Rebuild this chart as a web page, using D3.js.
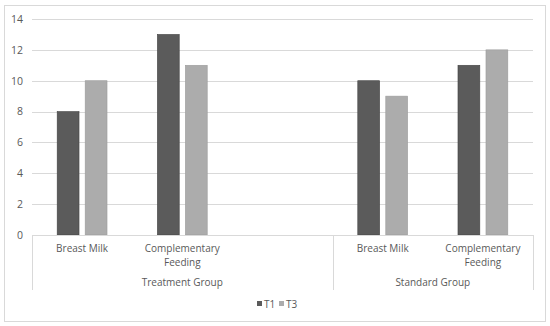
<!DOCTYPE html>
<html>
<head>
<meta charset="utf-8">
<script src="https://cdn.jsdelivr.net/npm/d3@7"></script>
<style>
  body { margin: 0; background: #fff; }
  text { font-family: "Open Sans", sans-serif; fill: #595959; }
</style>
</head>
<body>
<div id="chart"></div>
<script>
// data
var groups = ["Treatment Group", "Standard Group"];
var categories = ["Breast Milk", "Complementary Feeding", "", "Breast Milk", "Complementary Feeding"];
var categoryGroup = [0, 0, 0, 1, 1];
var seriesNames = ["T1", "T3"];
var t1Values = [8, 13, null, 10, 11];
var t3Values = [10, 11, null, 9, 12];
var yTicks = [0, 2, 4, 6, 8, 10, 12, 14];
var colors = {T1: "#5b5b5b", T3: "#acacac"};
var strokes = {T1: "#444", T3: "#9c9c9c"};

var W = 550, H = 326;
var plotLeft = 32, plotRight = 533, plotTop = 19, plotBottom = 235;

var svg = d3.select("#chart").append("svg")
    .attr("width", W).attr("height", H);

// outer border
svg.append("rect")
  .attr("x", 4.5).attr("y", 5.5).attr("width", 541).attr("height", 316)
  .attr("fill", "#fff").attr("stroke", "#d9d9d9");

var keys = categories.map(function(c, i) { return i; });
var x = d3.scaleBand().domain(keys).range([plotLeft, plotRight]).padding(0);
var x1 = d3.scaleBand().domain(seriesNames).range([0, x.bandwidth()])
    .paddingInner(0.22).paddingOuter(0.9);
var y = d3.scaleLinear().domain([0, 14]).range([plotBottom, plotTop]);

// gridlines
svg.append("g").selectAll("line")
  .data(yTicks.filter(function(d) { return d > 0; }))
  .enter().append("line")
    .attr("x1", plotLeft).attr("x2", plotRight)
    .attr("y1", function(d) { return Math.round(y(d)) + 0.5; })
    .attr("y2", function(d) { return Math.round(y(d)) + 0.5; })
    .attr("stroke", "#d9d9d9");

// y axis labels
var yAxis = svg.append("g")
  .attr("transform", "translate(" + (plotLeft - 9) + ",0)")
  .call(d3.axisLeft(y).tickValues(yTicks).tickSize(0).tickPadding(0));
yAxis.select(".domain").remove();
yAxis.selectAll("text").attr("font-size", 10.5).style("font-family", "Open Sans").attr("fill", "#595959");

// bars
var rows = categories.map(function(c, i) {
  return {i: i, T1: t1Values[i], T3: t3Values[i]};
});
var catG = svg.append("g").selectAll("g")
  .data(rows).enter().append("g")
    .attr("transform", function(d) { return "translate(" + x(d.i) + ",0)"; });
catG.selectAll("rect")
  .data(function(d) {
    return seriesNames.map(function(s) { return {s: s, v: d[s]}; })
      .filter(function(e) { return e.v != null; });
  })
  .enter().append("rect")
    .attr("x", function(d) { return x1(d.s); })
    .attr("y", function(d) { return y(d.v); })
    .attr("width", x1.bandwidth())
    .attr("height", function(d) { return y(0) - y(d.v); })
    .attr("fill", function(d) { return colors[d.s]; })
    .attr("stroke", function(d) { return strokes[d.s]; })
    .attr("stroke-width", 0.6);

// category axis
var axisCol = "#d9d9d9";
svg.append("line")
  .attr("x1", plotLeft).attr("x2", plotRight)
  .attr("y1", plotBottom + 0.5).attr("y2", plotBottom + 0.5)
  .attr("stroke", axisCol);

// group separators
var groupEdges = [x(0)];
groups.forEach(function(g, gi) {
  var last = categoryGroup.lastIndexOf(gi);
  groupEdges.push(x(last) + x.bandwidth());
});
svg.append("g").selectAll("line")
  .data(groupEdges).enter().append("line")
    .attr("x1", function(d) { return Math.round(d) + 0.5; })
    .attr("x2", function(d) { return Math.round(d) + 0.5; })
    .attr("y1", plotBottom).attr("y2", 290)
    .attr("stroke", axisCol);

// category labels
svg.append("g").selectAll("text")
  .data(rows).enter().append("text")
    .attr("text-anchor", "middle")
    .attr("font-size", 10)
    .attr("x", function(d) { return x(d.i) + x.bandwidth() / 2; })
    .attr("y", 252)
    .each(function(d) {
      var words = categories[d.i].split(" ");
      var lines = categories[d.i].length > 12 ? [words[0], words.slice(1).join(" ")] : [categories[d.i]];
      var t = d3.select(this);
      lines.forEach(function(l, k) {
        t.append("tspan").attr("x", x(d.i) + x.bandwidth() / 2)
          .attr("dy", k === 0 ? 0 : 13.5).text(l);
      });
    });

// group labels
svg.append("g").selectAll("text")
  .data(groups).enter().append("text")
    .attr("text-anchor", "middle")
    .attr("font-size", 10)
    .attr("x", function(d, gi) { return (groupEdges[gi] + groupEdges[gi + 1]) / 2; })
    .attr("y", 286)
    .text(function(d) { return d; });

// legend
var legend = svg.append("g").attr("transform", "translate(257,305)");
seriesNames.forEach(function(s, k) {
  var g = legend.append("g").attr("transform", "translate(" + (k * 22) + ",0)");
  g.append("rect").attr("x", 0).attr("y", -4).attr("width", 5).attr("height", 5)
    .attr("fill", colors[s]);
  g.append("text").attr("x", 7).attr("y", 2.5).attr("font-size", 10).text(s);
});
</script>
</body>
</html>
